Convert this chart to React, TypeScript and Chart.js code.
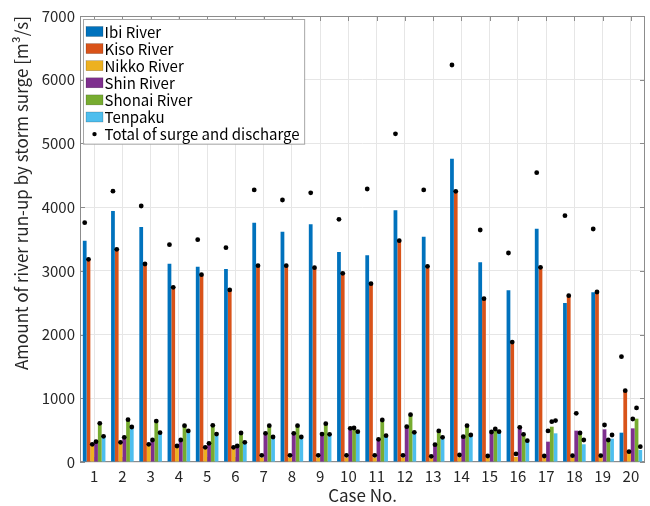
import React, { useEffect, useRef } from 'react';
import { Chart, registerables } from 'chart.js';

Chart.register(...registerables);

const FONT = '"Noto Sans CJK JP", "Noto Sans", sans-serif';

const cases = ['1', '2', '3', '4', '5', '6', '7', '8', '9', '10', '11', '12', '13', '14', '15', '16', '17', '18', '19', '20'];
const seriesNames = ['Ibi River', 'Kiso River', 'Nikko River', 'Shin River', 'Shonai River', 'Tenpaku'];
const seriesColors = ['#0072BD', '#D95319', '#EDB120', '#7E2F8E', '#77AC30', '#4DBEEE'];
const totalLabel = 'Total of surge and discharge';
const yTicks = [0, 1000, 2000, 3000, 4000, 5000, 6000, 7000];

const ibi = [3473, 3940, 3689, 3113, 3066, 3029, 3757, 3615, 3730, 3296, 3244, 3951, 3537, 4761, 3134, 2695, 3662, 2496, 2663, 460];
const kiso = [3181, 3338, 3108, 2742, 2940, 2700, 3082, 3082, 3050, 2961, 2799, 3473, 3071, 4249, 2563, 1883, 3056, 2610, 2668, 1119];
const nikko = [278, 309, 278, 251, 230, 230, 70, 70, 70, 70, 70, 70, 60, 75, 65, 80, 65, 70, 70, 146];
const shin = [319, 387, 345, 345, 293, 251, 450, 450, 439, 528, 356, 554, 272, 397, 471, 544, 319, 492, 513, 528];
const shonai = [607, 664, 643, 570, 576, 455, 570, 570, 602, 534, 659, 742, 487, 570, 518, 434, 554, 450, 345, 680];
const tenpaku = [403, 549, 460, 487, 439, 309, 392, 392, 434, 476, 413, 466, 387, 424, 476, 335, 450, 278, 366, 188];

const ibiTotal = [3757, 4250, 4018, 3411, 3489, 3364, 4270, 4112, 4225, 3809, 4285, 5150, 4270, 6231, 3641, 3280, 4541, 3866, 3657, 1653];
const kisoTotal = [3181, 3338, 3108, 2742, 2940, 2700, 3082, 3082, 3050, 2961, 2799, 3473, 3071, 4249, 2563, 1883, 3056, 2610, 2668, 1119];
const nikkoTotal = [278, 309, 278, 251, 230, 230, 105, 105, 105, 105, 105, 105, 89, 110, 94, 126, 94, 99, 99, 162];
const shinTotal = [319, 387, 345, 345, 293, 251, 450, 450, 439, 528, 356, 554, 272, 397, 471, 544, 487, 764, 581, 675];
const shonaiTotal = [607, 664, 643, 570, 576, 455, 570, 570, 602, 534, 659, 742, 487, 570, 518, 434, 633, 455, 345, 848];
const tenpakuTotal = [403, 549, 460, 487, 439, 309, 392, 392, 434, 476, 413, 466, 387, 424, 476, 335, 650, 345, 424, 240];

const seriesValues = [ibi, kiso, nikko, shin, shonai, tenpaku];
const totals = [ibiTotal, kisoTotal, nikkoTotal, shinTotal, shonaiTotal, tenpakuTotal];

const FRAME = '#8c8c8c';
const TEXT = '#262626';

const framePlugin = {
  id: 'frame',
  beforeDatasetsDraw(chart: any) {
    const { ctx, chartArea: a, scales } = chart;
    ctx.save();
    ctx.strokeStyle = FRAME;
    ctx.lineWidth = 1;
    ctx.strokeRect(a.left + 0.5, a.top + 0.5, a.right - a.left - 1, a.bottom - a.top - 1);
    const tl = 5;
    ctx.beginPath();
    const xs = scales.x;
    for (let i = 0; i < cases.length; i++) {
      const px = Math.round(xs.getPixelForValue(i)) + 0.5;
      ctx.moveTo(px, a.bottom);
      ctx.lineTo(px, a.bottom - tl);
      ctx.moveTo(px, a.top);
      ctx.lineTo(px, a.top + tl);
    }
    const ys = scales.y;
    yTicks.forEach((v) => {
      const py = Math.round(ys.getPixelForValue(v)) + 0.5;
      ctx.moveTo(a.left, py);
      ctx.lineTo(a.left + tl, py);
      ctx.moveTo(a.right, py);
      ctx.lineTo(a.right - tl, py);
    });
    ctx.stroke();
    ctx.restore();
  },
};

const totalsPlugin = {
  id: 'totals',
  afterDatasetsDraw(chart: any) {
    const { ctx } = chart;
    const ys = chart.scales.y;
    ctx.save();
    ctx.fillStyle = '#000';
    totals.forEach((arr, j) => {
      const meta = chart.getDatasetMeta(j);
      arr.forEach((v, i) => {
        const el = meta.data[i];
        if (!el) return;
        ctx.beginPath();
        ctx.arc(el.x, ys.getPixelForValue(v), 2.4, 0, Math.PI * 2);
        ctx.fill();
      });
    });
    ctx.restore();
  },
};

const legendPlugin = {
  id: 'customLegend',
  afterDraw(chart: any) {
    const { ctx, chartArea: a } = chart;
    ctx.save();
    ctx.font = `15px ${FONT}`;
    const labels = [...seriesNames, totalLabel];
    const textW = Math.max(...labels.map((l) => ctx.measureText(l).width));
    const x0 = a.left + 3;
    const y0 = a.top + 3;
    const rowH = 17.1;
    const w = 21 + textW + 5;
    const h = rowH * labels.length + 5;
    ctx.fillStyle = '#fff';
    ctx.fillRect(x0, y0, w, h);
    ctx.strokeStyle = '#a6a6a6';
    ctx.lineWidth = 1;
    ctx.strokeRect(x0 + 0.5, y0 + 0.5, w, h);
    ctx.textBaseline = 'middle';
    labels.forEach((l, i) => {
      const cy = y0 + 12.5 + i * rowH;
      if (i < seriesColors.length) {
        ctx.fillStyle = seriesColors[i];
        ctx.fillRect(x0 + 3, cy - 5, 17, 10);
        ctx.strokeStyle = 'rgba(0,0,0,0.35)';
        ctx.lineWidth = 0.5;
        ctx.strokeRect(x0 + 3, cy - 5, 17, 10);
      } else {
        ctx.fillStyle = '#000';
        ctx.beginPath();
        ctx.arc(x0 + 11.5, cy, 2.2, 0, Math.PI * 2);
        ctx.fill();
      }
      ctx.fillStyle = '#000';
      ctx.fillText(l, x0 + 21.5, cy + 0.5);
    });
    ctx.restore();
  },
};

export default function App() {
  const ref = useRef<HTMLCanvasElement | null>(null);

  useEffect(() => {
    if (!ref.current) return;
    const chart = new Chart(ref.current, {
      type: 'bar',
      data: {
        labels: cases,
        datasets: seriesNames.map((name, j) => ({
          label: name,
          data: seriesValues[j],
          backgroundColor: seriesColors[j],
          borderWidth: 0,
          categoryPercentage: 0.8,
          barPercentage: 1.0,
        })),
      },
      options: {
        animation: false,
        responsive: true,
        maintainAspectRatio: false,
        devicePixelRatio: 1,
        layout: { padding: { top: 16, right: 5, left: 0, bottom: 0 } },
        plugins: {
          legend: { display: false },
          tooltip: { enabled: false },
        },
        scales: {
          x: {
            grid: { offset: false, color: '#e6e6e6', drawTicks: false },
            border: { display: false },
            ticks: {
              autoSkip: false,
              maxRotation: 0,
              padding: 5,
              color: TEXT,
              font: { size: 15, family: FONT },
            },
            title: {
              display: true,
              text: 'Case No.',
              color: TEXT,
              font: { size: 17, family: FONT },
              padding: { top: 0, bottom: 0 },
            },
            afterFit: (s: any) => {
              s.height = 44;
            },
          },
          y: {
            min: 0,
            max: 7000,
            grid: { color: '#e6e6e6', drawTicks: false },
            border: { display: false },
            afterBuildTicks: (s: any) => {
              s.ticks = yTicks.map((v) => ({ value: v }));
            },
            ticks: {
              padding: 5,
              color: TEXT,
              font: { size: 15, family: FONT },
              callback: (v: any) => String(v),
            },
            title: {
              display: true,
              text: 'Amount of river run-up by storm surge [m³/s]',
              align: 'end',
              color: TEXT,
              font: { size: 17, family: FONT },
              padding: { top: 11, bottom: 0 },
            },
            afterFit: (s: any) => {
              s.width = 80;
            },
          },
        },
      },
      plugins: [framePlugin, totalsPlugin, legendPlugin],
    });
    return () => chart.destroy();
  }, []);

  return (
    <div style={{ position: 'fixed', left: 0, top: 0, width: 650, height: 506, background: '#fff' }}>
      <canvas ref={ref} />
    </div>
  );
}
